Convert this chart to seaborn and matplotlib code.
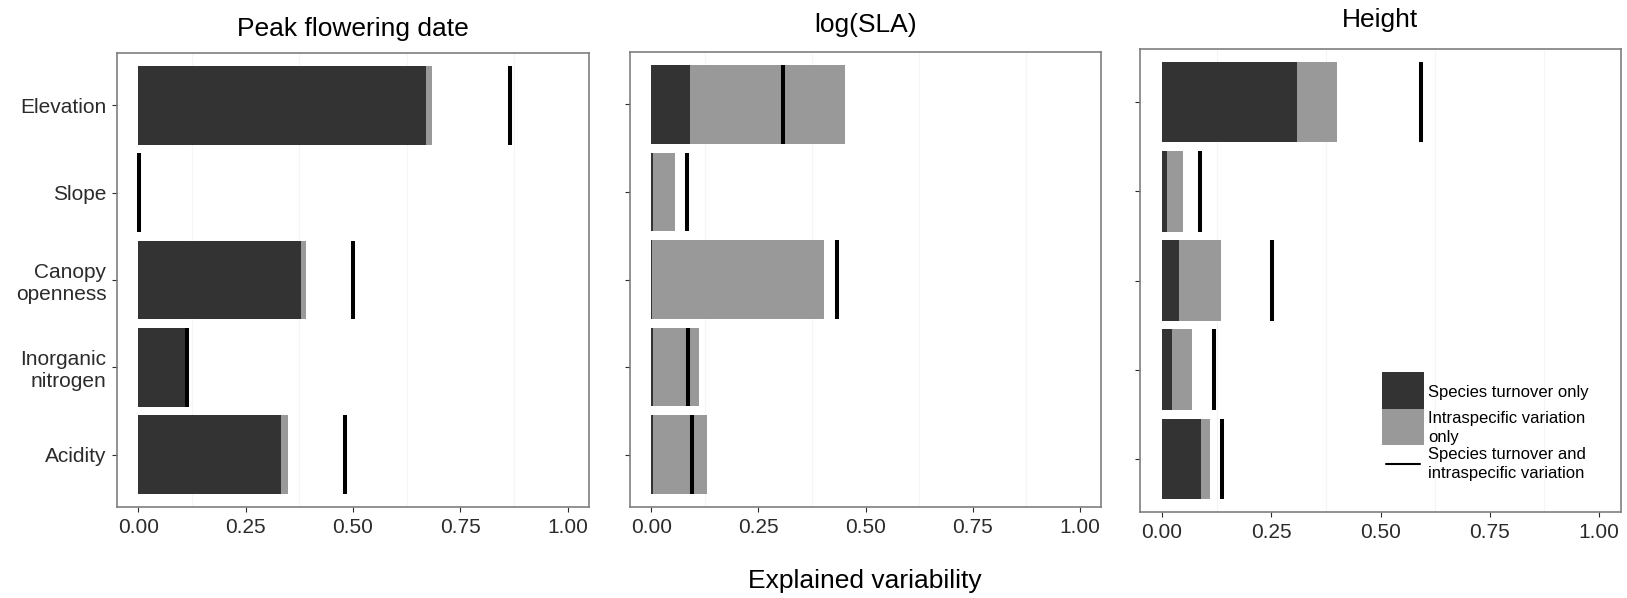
import numpy as np
import pandas as pd
import matplotlib
matplotlib.use("Agg")
import matplotlib.pyplot as plt
import seaborn as sns
from matplotlib.patches import Rectangle
from matplotlib.lines import Line2D

# ---------------- data ----------------
predictors = ["Elevation", "Slope", "Canopy\nopenness", "Inorganic\nnitrogen", "Acidity"]
traits = ["Peak flowering date", "log(SLA)", "Height"]

peak_turnover = [0.670, 0.000, 0.379, 0.109, 0.333]
peak_intra = [0.015, 0.000, 0.012, 0.000, 0.015]
peak_combined = [0.866, 0.002, 0.500, 0.112, 0.482]

sla_turnover = [0.091, 0.004, 0.002, 0.003, 0.003]
sla_intra = [0.362, 0.050, 0.401, 0.107, 0.127]
sla_combined = [0.307, 0.082, 0.434, 0.085, 0.095]

height_turnover = [0.309, 0.011, 0.039, 0.023, 0.089]
height_intra = [0.091, 0.038, 0.096, 0.045, 0.022]
height_combined = [0.592, 0.087, 0.251, 0.120, 0.137]

x_ticks = [0.0, 0.25, 0.5, 0.75, 1.0]
x_tick_labels = ["0.00", "0.25", "0.50", "0.75", "1.00"]
x_label = "Explained variability"
legend_labels = ["Species turnover only",
                 "Intraspecific variation\nonly",
                 "Species turnover and\nintraspecific variation"]

# ---------------- style ----------------
DARK = "#333333"
LIGHT = "#999999"
SPINE = "#7F7F7F"
TXT = "#2B2B2B"

sns.set_theme(style="white")
plt.rcParams["font.family"] = ["Liberation Sans", "DejaVu Sans"]

W, H = 1627, 598
fig = plt.figure(figsize=(W / 100, H / 100), dpi=100)

def px_axes(l, t, r, b):
    return fig.add_axes([l / W, 1 - b / H, (r - l) / W, (b - t) / H])

boxes = [(117, 53, 589, 507), (630, 52, 1101, 507), (1140, 49, 1621, 512)]
title_baselines = [36, 32, 27]
series = [(peak_turnover, peak_intra, peak_combined),
          (sla_turnover, sla_intra, sla_combined),
          (height_turnover, height_intra, height_combined)]

for k, (box, title, (tv, iv, cv)) in enumerate(zip(boxes, traits, series)):
    ax = px_axes(*box)
    df = pd.DataFrame({"predictor": predictors, "turnover": tv,
                       "intra": iv, "combined": cv})
    df["stack"] = df["turnover"] + df["intra"]

    sns.barplot(data=df, y="predictor", x="stack", order=predictors, orient="h",
                color=LIGHT, saturation=1, width=0.9, errorbar=None,
                linewidth=0, edgecolor="none", ax=ax)
    sns.barplot(data=df, y="predictor", x="turnover", order=predictors, orient="h",
                color=DARK, saturation=1, width=0.9, errorbar=None,
                linewidth=0, edgecolor="none", ax=ax)
    pos = np.arange(len(predictors))
    ax.vlines(df["combined"], pos - 0.45, pos + 0.45, color="black", lw=2.9,
              zorder=5)

    ax.set_xlim(-0.05, 1.05)
    ax.set_ylim(len(predictors) - 0.4, -0.6)
    ax.set_xticks(x_ticks)
    ax.set_xticklabels(x_tick_labels)
    ax.set_xticks([0.125, 0.375, 0.625, 0.875], minor=True)
    ax.grid(False, which="major")
    ax.grid(True, which="minor", axis="x", color="#F5F5F5", lw=0.8)
    ax.set_axisbelow(True)
    ax.set_xlabel("")
    ax.set_ylabel("")
    ax.tick_params(axis="both", which="major", bottom=True, left=True,
                   length=3.3, width=0.8, color=TXT, labelsize=15,
                   labelcolor=TXT, pad=4.3)
    ax.tick_params(which="minor", length=0)
    if k > 0:
        ax.set_yticklabels([])
    else:
        for lab in ax.get_yticklabels():
            lab.set_linespacing(1.2)
    for sp in ax.spines.values():
        sp.set_visible(True)
        sp.set_color(SPINE)
        sp.set_linewidth(1.2)

    cx = (box[0] + box[2]) / 2
    fig.text(cx / W, 1 - title_baselines[k] / H, title, ha="center",
             va="baseline", fontsize=19, color="black")

fig.text(865 / W, 1 - 588 / H, x_label, ha="center", va="baseline",
         fontsize=19, color="black")

# ---------------- legend (inside Height panel) ----------------
fig.add_artist(Rectangle((1382 / W, 1 - 409 / H), 42 / W, 37 / H,
                         transform=fig.transFigure, facecolor=DARK, lw=0))
fig.add_artist(Rectangle((1382 / W, 1 - 445 / H), 42 / W, 36 / H,
                         transform=fig.transFigure, facecolor=LIGHT, lw=0))
fig.add_artist(Line2D([1386 / W, 1420 / W], [1 - 464 / H] * 2,
                      transform=fig.transFigure, color="black", lw=1.5))
for lab, yc in zip(legend_labels, [392, 428, 464]):
    fig.text(1428 / W, 1 - yc / H, lab, ha="left", va="center",
             fontsize=12, color="black", linespacing=1.3)

fig.savefig("out.png", dpi=100)
